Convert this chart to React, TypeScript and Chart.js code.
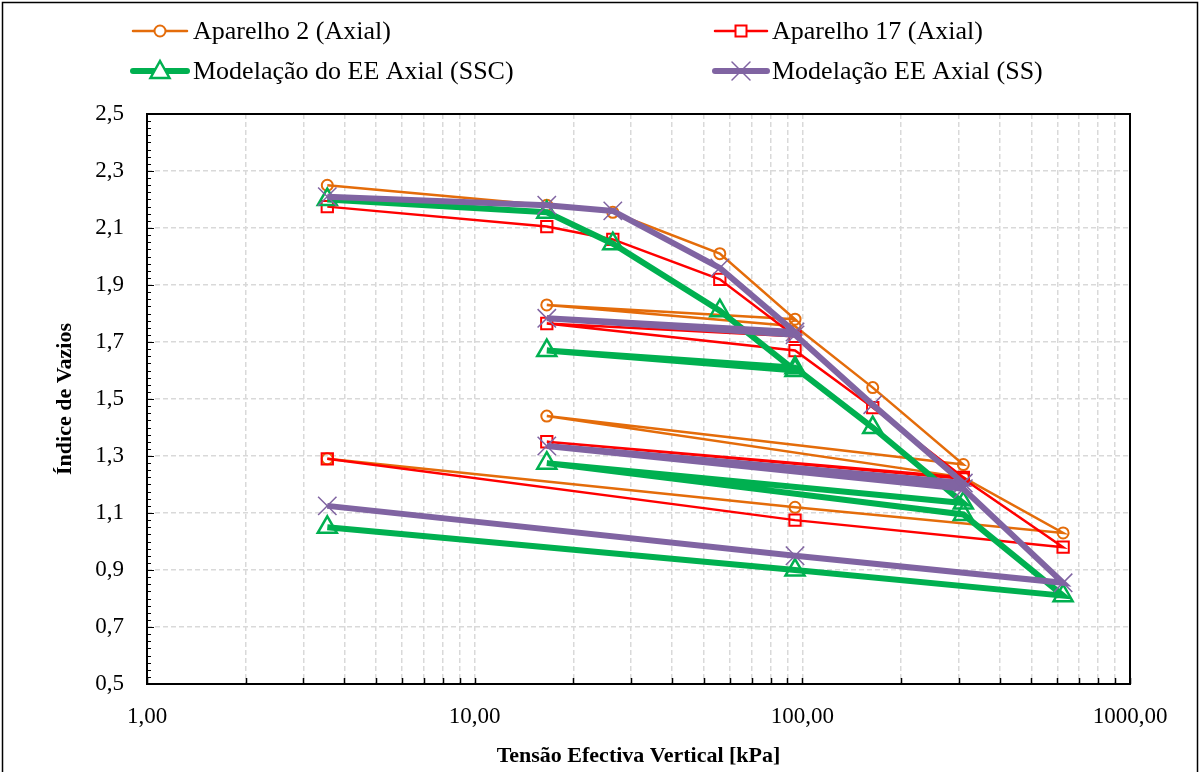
import React, { useEffect, useRef } from 'react';
import { Chart, registerables } from 'chart.js';

Chart.register(...registerables);

// ---- Data (void ratio vs. vertical effective stress) ----
const xAparelho2 = [3.55, 16.6, 26.4, 56, 95, 16.6, 95, 164, 310, 16.6, 310, 625, 95, 3.55];
const yAparelho2 = [2.25, 2.18, 2.155, 2.01, 1.78, 1.83, 1.755, 1.54, 1.27, 1.44, 1.225, 1.03, 1.12, 1.29];

const xAparelho17 = [3.55, 16.6, 26.4, 56, 95, 16.6, 95, 164, 310, 16.6, 310, 625, 95, 3.55];
const yAparelho17 = [2.175, 2.105, 2.06, 1.92, 1.72, 1.765, 1.67, 1.47, 1.225, 1.35, 1.22, 0.98, 1.075, 1.29];

const xSSC = [3.55, 16.6, 26.4, 56, 95, 16.6, 95, 164, 310, 16.6, 310, 625, 95, 3.55];
const ySSC = [2.2, 2.155, 2.045, 1.81, 1.6, 1.67, 1.61, 1.4, 1.135, 1.275, 1.095, 0.81, 0.9, 1.05];

const xSS = [3.55, 16.6, 26.4, 56, 95, 16.6, 95, 164, 310, 16.6, 310, 625, 95, 3.55];
const ySS = [2.21, 2.18, 2.16, 1.96, 1.735, 1.783, 1.725, 1.48, 1.205, 1.335, 1.185, 0.855, 0.95, 1.125];

const seriesNames = [
  'Aparelho 2 (Axial)',
  'Aparelho 17 (Axial)',
  'Modelação do EE Axial (SSC)',
  'Modelação EE Axial (SS)',
];

const xTickValues = [1, 10, 100, 1000];
const xTickLabels = ['1,00', '10,00', '100,00', '1000,00'];
const yTickValues = [0.5, 0.7, 0.9, 1.1, 1.3, 1.5, 1.7, 1.9, 2.1, 2.3, 2.5];
const yTickLabels = ['0,5', '0,7', '0,9', '1,1', '1,3', '1,5', '1,7', '1,9', '2,1', '2,3', '2,5'];

const xTitle = 'Tensão Efectiva Vertical [kPa]';
const yTitle = 'Índice de Vazios';

const ORANGE = '#E46C0A';
const RED = '#FF0000';
const GREEN = '#00B050';
const PURPLE = '#8064A2';

const FONT = "'Liberation Serif', 'Times New Roman', serif";

const toPoints = (xs: number[], ys: number[]) => xs.map((x, i) => ({ x, y: ys[i] }));

type LegendItem = {
  text: string;
  color: string;
  lineWidth: number;
  marker: 'circle' | 'rect' | 'triangle' | 'cross';
  x0: number;
  x1: number;
  y: number;
  textX: number;
};

const legendItems: LegendItem[] = [
  { text: seriesNames[0], color: ORANGE, lineWidth: 2.5, marker: 'circle', x0: 133, x1: 187, y: 31, textX: 193 },
  { text: seriesNames[1], color: RED, lineWidth: 2.5, marker: 'rect', x0: 715, x1: 767, y: 31, textX: 772 },
  { text: seriesNames[2], color: GREEN, lineWidth: 6, marker: 'triangle', x0: 133, x1: 187, y: 71, textX: 193 },
  { text: seriesNames[3], color: PURPLE, lineWidth: 6, marker: 'cross', x0: 715, x1: 767, y: 71, textX: 772 },
];

function drawMarker(ctx: CanvasRenderingContext2D, kind: string, x: number, y: number, color: string) {
  ctx.save();
  ctx.strokeStyle = color;
  ctx.fillStyle = '#ffffff';
  ctx.setLineDash([]);
  ctx.beginPath();
  if (kind === 'circle') {
    ctx.lineWidth = 2;
    ctx.arc(x, y, 5.5, 0, Math.PI * 2);
    ctx.fill();
    ctx.stroke();
  } else if (kind === 'rect') {
    ctx.lineWidth = 2;
    ctx.rect(x - 5.5, y - 5.5, 11, 11);
    ctx.fill();
    ctx.stroke();
  } else if (kind === 'triangle') {
    ctx.lineWidth = 2.5;
    ctx.moveTo(x, y - 10);
    ctx.lineTo(x + 9.5, y + 7);
    ctx.lineTo(x - 9.5, y + 7);
    ctx.closePath();
    ctx.fill();
    ctx.stroke();
  } else {
    ctx.lineWidth = 1.5;
    ctx.moveTo(x - 9, y - 9);
    ctx.lineTo(x + 9, y + 9);
    ctx.moveTo(x + 9, y - 9);
    ctx.lineTo(x - 9, y + 9);
    ctx.stroke();
  }
  ctx.restore();
}

const framePlugin = {
  id: 'frame',
  beforeDraw(chart: any) {
    const { ctx, width, height } = chart;
    ctx.save();
    ctx.fillStyle = '#ffffff';
    ctx.fillRect(0, 0, width, height);
    ctx.restore();
  },
  afterDraw(chart: any) {
    const { ctx, chartArea: a, scales } = chart;
    ctx.save();
    ctx.setLineDash([]);
    ctx.strokeStyle = '#000000';
    // y-axis minor/major ticks (inside)
    ctx.lineWidth = 1.2;
    ctx.beginPath();
    for (let i = 0; i <= 80; i++) {
      const v = 0.5 + i * 0.025;
      const py = Math.round(scales.y.getPixelForValue(v)) + 0.5;
      const len = i % 8 === 0 ? 7 : 4;
      ctx.moveTo(a.left, py);
      ctx.lineTo(a.left + len, py);
    }
    ctx.stroke();
    // x-axis ticks (inside)
    ctx.lineWidth = 1.5;
    ctx.beginPath();
    scales.x.ticks.forEach((t: any) => {
      const px = Math.round(scales.x.getPixelForValue(t.value)) + 0.5;
      ctx.moveTo(px, a.bottom);
      ctx.lineTo(px, a.bottom - 6);
    });
    ctx.stroke();
    // plot area frame
    ctx.lineWidth = 2;
    ctx.strokeRect(a.left, a.top, a.right - a.left, a.bottom - a.top);
    // outer chart frame
    ctx.lineWidth = 1.5;
    ctx.strokeRect(2.5, 2.5, chart.width - 5, chart.height + 20);

    // legend
    ctx.font = `26px ${FONT}`;
    ctx.textBaseline = 'middle';
    ctx.textAlign = 'left';
    legendItems.forEach((it) => {
      ctx.strokeStyle = it.color;
      ctx.lineWidth = it.lineWidth;
      ctx.lineCap = 'round';
      ctx.beginPath();
      ctx.moveTo(it.x0, it.y);
      ctx.lineTo(it.x1, it.y);
      ctx.stroke();
      drawMarker(ctx, it.marker, (it.x0 + it.x1) / 2, it.y, it.color);
      ctx.fillStyle = '#000000';
      ctx.fillText(it.text, it.textX, it.y + 1);
    });
    ctx.restore();
  },
};

export default function App() {
  const canvasRef = useRef<HTMLCanvasElement | null>(null);

  useEffect(() => {
    if (!canvasRef.current) return;
    const gridColor = '#d9d9d9';
    const chart = new Chart(canvasRef.current, {
      type: 'line',
      data: {
        datasets: [
          {
            label: seriesNames[3],
            data: toPoints(xSS, ySS),
            borderColor: PURPLE,
            backgroundColor: PURPLE,
            borderWidth: 6,
            pointStyle: 'crossRot',
            pointRadius: 13,
            pointBorderWidth: 1.5,
            pointBorderColor: PURPLE,
            order: 0,
          },
          {
            label: seriesNames[2],
            data: toPoints(xSSC, ySSC),
            borderColor: GREEN,
            backgroundColor: 'rgba(0,0,0,0)',
            borderWidth: 6,
            pointStyle: 'triangle',
            pointRadius: 11,
            pointBorderWidth: 2.5,
            pointBorderColor: GREEN,
            order: 1,
          },
          {
            label: seriesNames[1],
            data: toPoints(xAparelho17, yAparelho17),
            borderColor: RED,
            backgroundColor: 'rgba(0,0,0,0)',
            borderWidth: 2.5,
            pointStyle: 'rect',
            pointRadius: 8,
            pointBorderWidth: 2,
            pointBorderColor: RED,
            order: 2,
          },
          {
            label: seriesNames[0],
            data: toPoints(xAparelho2, yAparelho2),
            borderColor: ORANGE,
            backgroundColor: 'rgba(0,0,0,0)',
            borderWidth: 2.5,
            pointStyle: 'circle',
            pointRadius: 5.5,
            pointBorderWidth: 2,
            pointBorderColor: ORANGE,
            order: 3,
          },
        ],
      },
      options: {
        animation: false,
        responsive: true,
        maintainAspectRatio: false,
        parsing: true,
        layout: { padding: { left: 0, top: 114, right: 70, bottom: 0 } },
        plugins: {
          legend: { display: false },
          tooltip: { enabled: false },
        },
        elements: { line: { tension: 0, fill: false } },
        scales: {
          x: {
            type: 'logarithmic',
            min: 1,
            max: 1000,
            afterBuildTicks: (scale: any) => {
              const ticks: { value: number }[] = [];
              for (let d = 1; d < 1000; d *= 10) {
                for (let m = 1; m < 10; m++) ticks.push({ value: m * d });
              }
              ticks.push({ value: 1000 });
              scale.ticks = ticks;
            },
            afterFit: (scale: any) => {
              scale.height = 88;
            },
            grid: {
              color: gridColor,
              lineWidth: 1.5,
              drawTicks: false,
            },
            border: { display: false, dash: [5, 3] },
            ticks: {
              autoSkip: false,
              maxRotation: 0,
              minRotation: 0,
              padding: 19,
              color: '#000000',
              font: { family: FONT, size: 23 },
              callback: (value: any) => {
                const idx = xTickValues.findIndex((v) => Math.abs(v - Number(value)) < 1e-9);
                return idx >= 0 ? xTickLabels[idx] : '';
              },
            },
            title: {
              display: true,
              text: xTitle,
              color: '#000000',
              font: { family: FONT, size: 22, weight: 'bold' },
              padding: { top: 0, bottom: 2 },
            },
          },
          y: {
            type: 'linear',
            min: 0.5,
            max: 2.5,
            afterBuildTicks: (scale: any) => {
              scale.ticks = yTickValues.map((v) => ({ value: v }));
            },
            afterFit: (scale: any) => {
              scale.width = 147;
            },
            grid: {
              color: gridColor,
              lineWidth: 1.5,
              drawTicks: false,
            },
            border: { display: false, dash: [5, 3] },
            ticks: {
              autoSkip: false,
              padding: 23,
              color: '#000000',
              font: { family: FONT, size: 23 },
              callback: (value: any) => {
                const idx = yTickValues.findIndex((v) => Math.abs(v - Number(value)) < 1e-9);
                return idx >= 0 ? yTickLabels[idx] : '';
              },
            },
            title: {
              display: true,
              text: yTitle,
              color: '#000000',
              font: { family: FONT, size: 22, weight: 'bold' },
              padding: { top: 52, bottom: 0 },
            },
          },
        },
      },
      plugins: [framePlugin],
    } as any);
    return () => chart.destroy();
  }, []);

  return (
    <div style={{ position: 'fixed', left: 0, top: 0, width: 1200, height: 772, background: '#fff' }}>
      <canvas ref={canvasRef} />
    </div>
  );
}
